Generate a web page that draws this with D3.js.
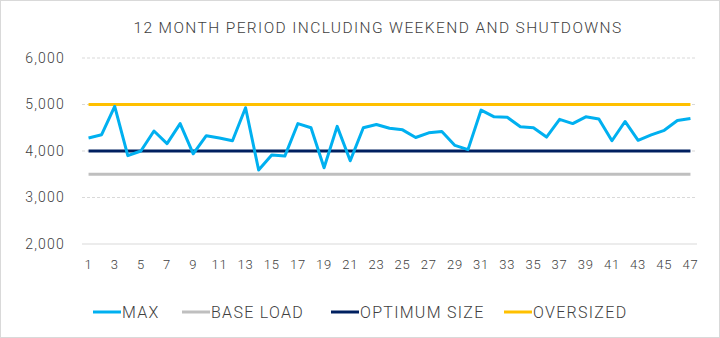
<!DOCTYPE html>
<html>
<head>
<meta charset="utf-8">
<script src="https://cdn.jsdelivr.net/npm/d3@7"></script>
<style>
  body { margin: 0; background: #fff; }
  svg { display: block; font-family: "Roboto", "Open Sans", sans-serif; font-weight: 300; }
</style>
</head>
<body>
<svg width="720" height="338"></svg>
<script>
// chart data
var periods = d3.range(1, 48);
var maxLoad = [4280, 4350, 4960, 3900, 4000, 4430, 4160, 4590, 3940, 4330,
               4280, 4220, 4930, 3590, 3915, 3890, 4590, 4500, 3640, 4530,
               3790, 4500, 4570, 4490, 4455, 4290, 4390, 4420, 4120, 4030,
               4880, 4735, 4725, 4520, 4500, 4300, 4680, 4590, 4735, 4690,
               4220, 4635, 4230, 4345, 4445, 4655, 4700];
var baseLoad = 3500;
var optimumSize = 4000;
var oversized = 5000;
var yTicks = [2000, 3000, 4000, 5000, 6000];
var title = "12 MONTH PERIOD INCLUDING WEEKEND AND SHUTDOWNS";

var series = [
  { name: "MAX", color: "#00B0F0", values: maxLoad },
  { name: "BASE LOAD", color: "#BFBFBF", values: periods.map(function(){ return baseLoad; }) },
  { name: "OPTIMUM SIZE", color: "#002060", values: periods.map(function(){ return optimumSize; }) },
  { name: "OVERSIZED", color: "#FFC000", values: periods.map(function(){ return oversized; }) }
];

var textColor = "#404040";

var svg = d3.select("svg"),
    width = 720,
    height = 338,
    margin = { top: 58, right: 23, bottom: 94, left: 82 };

svg.append("rect")
  .attr("x", 0.5).attr("y", 0.5)
  .attr("width", width - 1).attr("height", height - 1)
  .attr("fill", "#fff")
  .attr("stroke", "#d9d9d9");

var x = d3.scaleBand()
      .domain(periods)
      .range([margin.left, width - margin.right]);

var y = d3.scaleLinear()
      .domain([2000, 6000])
      .range([height - margin.bottom, margin.top]);

var xc = function(d) { return x(d) + x.bandwidth() / 2; };

svg.append("text")
  .attr("x", 378)
  .attr("y", 33)
  .attr("text-anchor", "middle")
  .attr("fill", textColor)
  .style("font-size", "15.5px")
  .style("letter-spacing", "1.4px")
  .text(title);

// grid
svg.append("g")
  .selectAll("line")
  .data(yTicks)
  .enter().append("line")
  .attr("x1", margin.left)
  .attr("x2", width - margin.right)
  .attr("y1", function(d) { return y(d); })
  .attr("y2", function(d) { return y(d); })
  .attr("stroke", "#d9d9d9")
  .attr("stroke-dasharray", function(d) { return d === 2000 ? null : "3,2"; });

var yAxis = svg.append("g")
  .attr("transform", "translate(" + (margin.left - 14) + ",0)")
  .call(d3.axisLeft(y).tickValues(yTicks).tickSize(0).tickFormat(d3.format(",")));
yAxis.select(".domain").remove();
yAxis.selectAll("text")
  .style("fill", textColor)
  .style("font-size", "14px")
  .style("letter-spacing", "1.2px")
  .style("font-family", "Roboto, sans-serif")
  .style("font-weight", 300);

var xAxis = svg.append("g")
  .attr("transform", "translate(0," + (height - margin.bottom + 13) + ")")
  .call(d3.axisBottom(x).tickValues(periods.filter(function(d) { return d % 2 === 1; })).tickSize(0));
xAxis.select(".domain").remove();
xAxis.selectAll("text")
  .style("fill", textColor)
  .style("font-size", "13px")
  .style("letter-spacing", "0.8px")
  .style("font-family", "Roboto, sans-serif")
  .style("font-weight", 300);

var line = d3.line()
      .x(function(d, i) { return xc(periods[i]); })
      .y(function(d) { return y(d); });

svg.append("g")
  .selectAll("path")
  .data(series.slice().reverse())
  .enter().append("path")
  .attr("fill", "none")
  .attr("stroke", function(d) { return d.color; })
  .attr("stroke-width", 3)
  .attr("stroke-linejoin", "round")
  .attr("d", function(d) { return line(d.values); });

// legend
var legendX = [93, 182, 331, 504];
var legend = svg.append("g")
  .selectAll("g")
  .data(series)
  .enter().append("g")
  .attr("transform", function(d, i) { return "translate(" + legendX[i] + ",312)"; });

legend.append("line")
  .attr("x1", 0).attr("x2", 28)
  .attr("stroke", function(d) { return d.color; })
  .attr("stroke-width", 3);

legend.append("text")
  .attr("x", 29)
  .attr("dy", "0.35em")
  .attr("fill", textColor)
  .style("font-size", "16px")
  .style("letter-spacing", "1.3px")
  .text(function(d) { return d.name; });
</script>
</body>
</html>
